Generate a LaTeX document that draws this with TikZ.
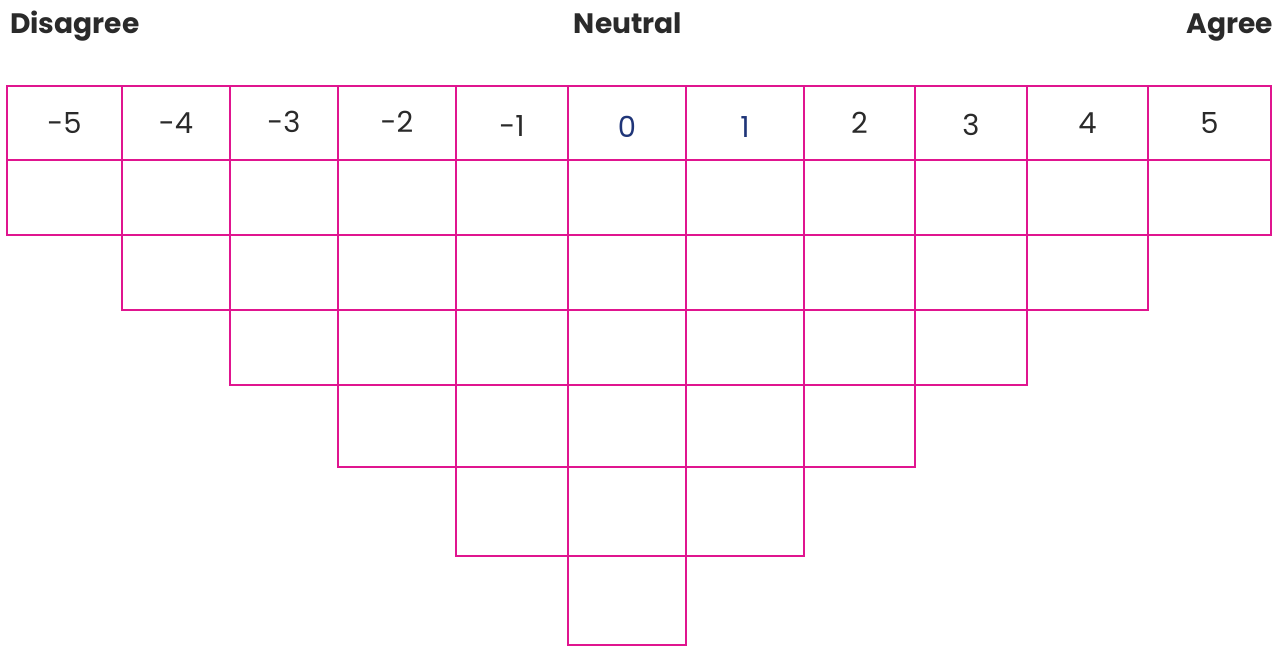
\documentclass[tikz,border=0pt]{standalone}
\usepackage{fontspec}
\setmainfont{Poppins}
\definecolor{gridpink}{HTML}{E0158F}
\definecolor{textgrey}{HTML}{2A2A2A}
\definecolor{neutralblue}{HTML}{1F3578}

\begin{document}
\begin{tikzpicture}[x=0.02cm, y=-0.02cm,
    cell/.style={draw=gridpink, line width=0.75pt},
    numlabel/.style={text=textgrey, anchor=base, font=\fontsize{16.5}{18}\selectfont},
    scalelabel/.style={text=textgrey, font=\fontsize{16}{20}\selectfont\bfseries}]
\useasboundingbox (0,0) rectangle (1274,646);
% scale ends
\node[scalelabel, anchor=base west] (disagree) at (4,33) {Disagree};
\node[scalelabel, anchor=base] (neutral) at (628,33) {Neutral};
\node[scalelabel, anchor=base east] (agree) at (1279,33) {Agree};
% columns: left/right/label/colour/baseline/number of cells
\foreach \l/\r/\lab/\col/\base/\n [count=\i] in {7/122/-5/textgrey/133/1, 122/230/-4/textgrey/133/2,
    230/338/-3/textgrey/132/3, 338/456/-2/textgrey/132/4, 456/568/-1/textgrey/136/5,
    568/686/0/neutralblue/137/6, 686/804/1/neutralblue/137/5, 804/915/2/textgrey/133/4,
    915/1027/3/textgrey/135/3, 1027/1148/4/textgrey/133/2, 1148/1271/5/textgrey/133/1} {
  \draw[cell] (\l,86) rectangle (\r,160);
  \node[numlabel, text=\col] (head\i) at ({(\l+\r)/2},\base) {\lab};
  \foreach \k in {1,...,\n} {
    \pgfmathsetmacro{\ytop}{{86,160,235,310,385,467,556,645}[\k]}
    \pgfmathsetmacro{\ybot}{{86,160,235,310,385,467,556,645}[\k+1]}
    \draw[cell] (\l,\ytop) rectangle (\r,\ybot);
  }
}
\end{tikzpicture}
\end{document}
